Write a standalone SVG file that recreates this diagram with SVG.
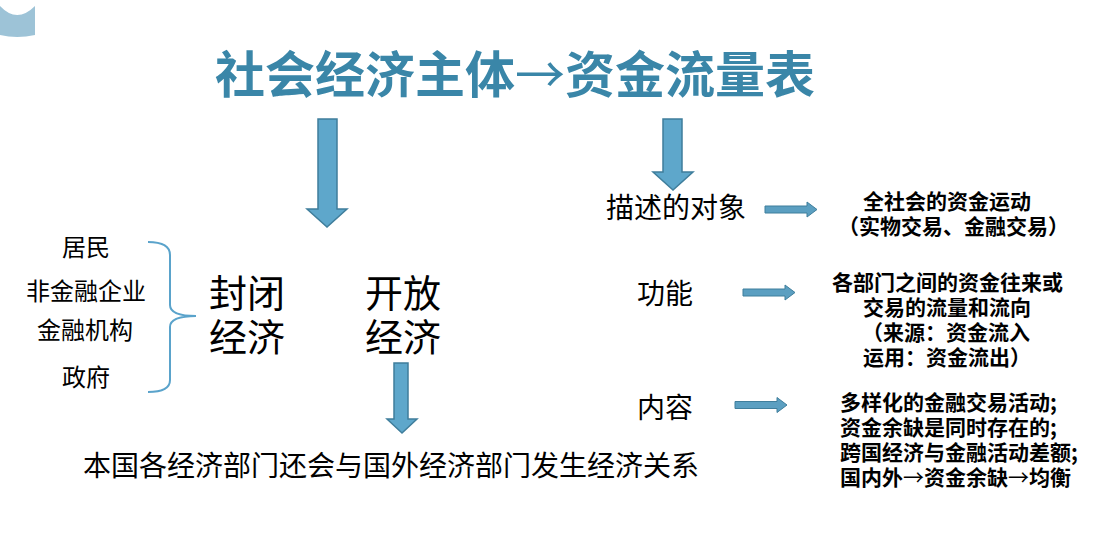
<svg xmlns="http://www.w3.org/2000/svg" width="1095" height="540" viewBox="0 0 1095 540">
<style>
.title{font-family:"Noto Sans CJK SC","Liberation Sans",sans-serif;font-weight:700;font-size:50px;fill:#3a86a8}
.reg{font-family:"Noto Sans CJK SC","Liberation Sans",sans-serif;fill:#000}
.bold{font-family:"Noto Sans CJK SC","Liberation Sans",sans-serif;font-weight:700;font-size:21px;fill:#000}
.thin{font-weight:400}
.bigarrow{fill:#5ea7cb;stroke:#3f7e9c;stroke-width:1.5}
.smallarrow{fill:#5b9fc1;stroke:#3f7e9c;stroke-width:1}
.brace{fill:none;stroke:#5aa3cb;stroke-width:2}
</style>
<rect width="1095" height="540" fill="#fff"/>
<path id="corner" d="M0,6 Q17,24 35,6 L35,35 Q17,39 0,35 Z" fill="#9dc3d7"/>
<g id="title"><text class="title" x="215" y="93">社会经济主体<tspan class="thin">→</tspan>资金流量表</text></g>
<g id="connectors">
<path class="bigarrow" d="M318,119 L337,119 L337,209 L347,209 L327,227 L307,209 L318,209 Z"/>
<path class="bigarrow" d="M663,119 L682,119 L682,172 L693,172 L673,190 L653,172 L663,172 Z"/>
<path class="bigarrow" d="M394,363 L408,363 L408,419 L417,419 L402,433 L387,419 L394,419 Z"/>
<path class="smallarrow" d="M765,206 L807,206 L807,202 L817,209.5 L807,217 L807,213 L765,213 Z"/>
<path class="smallarrow" d="M743,289 L785,289 L785,285 L795,292.5 L785,300 L785,296 L743,296 Z"/>
<path class="smallarrow" d="M735,401.5 L777,401.5 L777,397.5 L787,405 L777,412.5 L777,408.5 L735,408.5 Z"/>
<path class="brace" d="M148,242 Q170,242 170,255 L170,305 Q170,316 196,316 Q170,316 170,327 L170,380 Q170,392 148,392"/>
</g>
<g id="members" class="reg" font-size="24">
<text x="62" y="256">居民</text>
<text x="26" y="300">非金融企业</text>
<text x="37" y="339">金融机构</text>
<text x="62" y="386">政府</text>
</g>
<g id="closed"><text class="reg" font-size="38" x="209" y="307">封闭<tspan x="209" dy="44">经济</tspan></text></g>
<g id="open"><text class="reg" font-size="38" x="365" y="307">开放<tspan x="365" dy="44">经济</tspan></text></g>
<g id="bottom"><text class="reg" font-size="28" x="83" y="476">本国各经济部门还会与国外经济部门发生经济关系</text></g>
<g id="object">
<text class="reg" font-size="28" x="606" y="218">描述的对象</text>
<text class="bold" x="863" y="209">全社会的资金运动<tspan x="838" dy="25">（实物交易、金融交易）</tspan></text>
</g>
<g id="function">
<text class="reg" font-size="28" x="637" y="304">功能</text>
<text class="bold" x="832" y="290">各部门之间的资金往来或<tspan x="863" dy="25">交易的流量和流向</tspan><tspan x="862" dy="25">（来源：资金流入</tspan><tspan x="863" dy="25">运用：资金流出）</tspan></text>
</g>
<g id="content">
<text class="reg" font-size="28" x="637" y="418">内容</text>
<text class="bold" x="840" y="410">多样化的金融交易活动;<tspan x="840" dy="25">资金余缺是同时存在的;</tspan><tspan x="840" dy="25">跨国经济与金融活动差额;</tspan><tspan x="840" dy="25">国内外<tspan class="thin">→</tspan>资金余缺<tspan class="thin">→</tspan>均衡</tspan></text>
</g>
</svg>
